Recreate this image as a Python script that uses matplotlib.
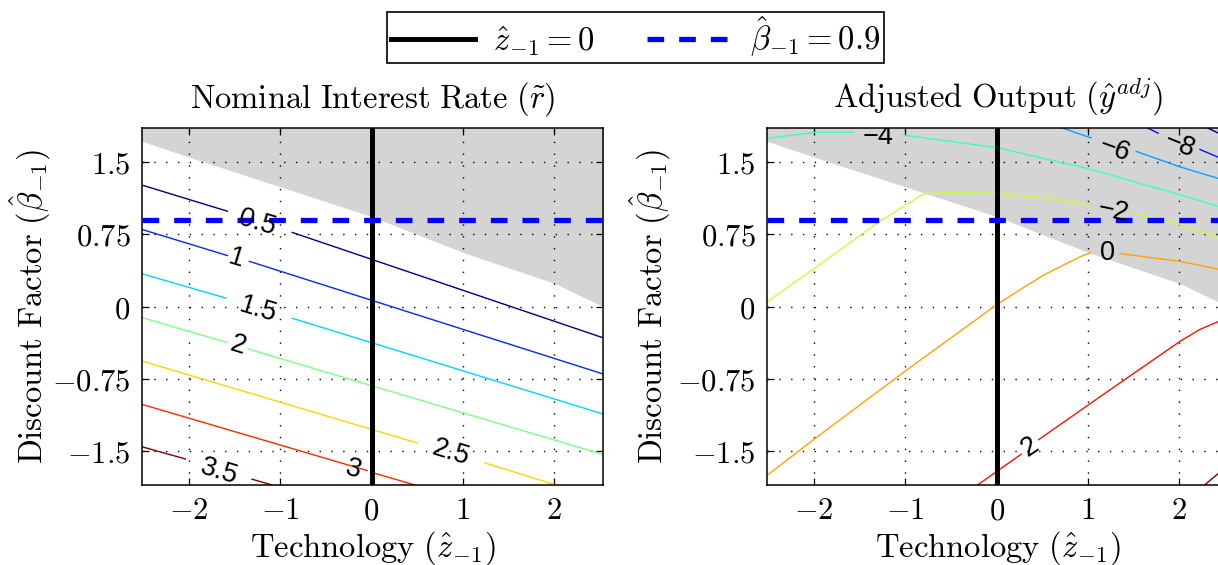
import numpy as np
import matplotlib
matplotlib.use('Agg')
import matplotlib.pyplot as plt
from matplotlib.ticker import FixedLocator, FixedFormatter

plt.rcParams['mathtext.fontset'] = 'cm'
plt.rcParams['lines.scale_dashes'] = False

nan = np.nan

# upper edge of the white area: above it the policy rate sits at the zero bound
zlb_z = [-2.53, -1.98, -0.99, 0.0, 1.01, 2.01, 2.56]
zlb_b = [1.72, 1.545, 1.24, 0.935, 0.56, 0.24, -0.01]

# nominal interest rate contours (nan = gap where the label goes)
r_levels = [0.5, 1.0, 1.5, 2.0, 2.5, 3.0, 3.5]
r05_z = [-2.53, -1.58, nan, -0.87, 2.56]
r05_b = [1.265, 0.99, nan, 0.77, -0.33]
r10_z = [-2.53, -1.58, nan, -1.34, 2.56]
r10_b = [0.805, 0.53, nan, 0.47, -0.705]
r15_z = [-2.53, -1.60, nan, -0.87, 2.56]
r15_b = [0.345, 0.09, nan, -0.12, -1.12]
r20_z = [-2.53, -1.59, nan, -1.35, 2.56]
r20_b = [-0.11, -0.37, nan, -0.44, -1.54]
r25_z = [-2.53, 0.505, nan, 1.24, 2.02]
r25_b = [-0.56, -1.415, nan, -1.62, -1.85]
r30_z = [-2.53, -0.05, nan, 0.04, 0.475]
r30_b = [-1.01, -1.70, nan, -1.73, -1.85]
r35_z = [-2.53, -2.04, nan, -1.31, -1.09]
r35_b = [-1.45, -1.58, nan, -1.79, -1.85]

r_lab_text = ['0.5', '1', '1.5', '2', '2.5', '3', '3.5']
r_lab_z = [-1.25, -1.48, -1.24, -1.47, 0.866, -0.20, -1.67]
r_lab_b = [0.87, 0.50, -0.035, -0.40, -1.52, -1.69, -1.71]
r_lab_rot = [-17, -17, -17, -17, -17, -17, -17]

# adjusted output contours
y_levels = [-10, -8, -6, -4, -2, 0, 2, 4]
m10_z = [2.30, 2.43, 2.56]
m10_b = [1.86, 1.80, 1.74]
m8_z = [1.64, 1.77, nan, 2.23, 2.43, 2.56]
m8_b = [1.86, 1.80, nan, 1.63, 1.55, 1.50]
m6_z = [0.70, 1.035, nan, 1.53, 2.01, 2.43, 2.56]
m6_b = [1.86, 1.75, nan, 1.61, 1.45, 1.33, 1.29]
m4_z = [-2.53, -1.97, -1.57, nan, -1.02, 0.0, 1.01, 2.01, 2.43, 2.56]
m4_b = [1.745, 1.81, 1.81, nan, 1.78, 1.65, 1.43, 1.16, 1.04, 1.0]
m2_z = [-2.53, -1.98, -1.29, -0.92, -0.84, -0.76, -0.48, 0.0, 0.5, 1.01, nan, 1.53, 2.01, 2.43, 2.56]
m2_b = [0.04, 0.41, 0.88, 1.10, 1.15, 1.175, 1.185, 1.175, 1.13, 1.06, nan, 0.96, 0.85, 0.715, 0.67]
y0_z = [-2.53, -1.98, -0.99, 0.0, 0.28, 0.52, 0.77, 0.92, 1.03, nan, 1.355, 2.01, 2.43, 2.56]
y0_b = [-1.76, -1.36, -0.66, 0.02, 0.19, 0.33, 0.45, 0.52, 0.56, nan, 0.55, 0.47, 0.39, 0.36]
p2_z = [-0.21, 0.0, 0.27, nan, 0.46, 1.14, 2.01, 2.23, 2.43, 2.56]
p2_b = [-1.85, -1.71, -1.53, nan, -1.38, -0.93, -0.36, -0.235, -0.155, -0.13]
p4_z = [2.28, 2.43, 2.56]
p4_b = [-1.85, -1.73, -1.63]

y_lab_text = ['\u22124', '\u22126', '\u22128', '\u22122', '0', '2']
y_lab_z = [-1.30, 1.29, 2.01, 1.28, 1.21, 0.37]
y_lab_b = [1.755, 1.63, 1.675, 0.985, 0.553, -1.46]
y_lab_rot = [0, -20, -22, -12, 0, 34]

z_ticks = [-2, -1, 0, 1, 2]
b_ticks = [-1.5, -0.75, 0, 0.75, 1.5]
b_tick_labels = ['$-1.5$', '$-0.75$', '$0$', '$0.75$', '$1.5$']
z_tick_labels = ['$-2$', '$-1$', '$0$', '$1$', '$2$']

z_bar = 0.0
beta_bar = 0.9

r_lines = list(zip([r05_z, r10_z, r15_z, r20_z, r25_z, r30_z, r35_z],
                   [r05_b, r10_b, r15_b, r20_b, r25_b, r30_b, r35_b]))
y_lines = list(zip([m10_z, m8_z, m6_z, m4_z, m2_z, y0_z, p2_z, p4_z],
                   [m10_b, m8_b, m6_b, m4_b, m2_b, y0_b, p2_b, p4_b]))

FS = 23.5
TICK_FS = 22
LAB_FS = 19.5


def jet(x):
    # MATLAB-style jet
    r = np.clip(1.5 - abs(4 * x - 3), 0, 1)
    g = np.clip(1.5 - abs(4 * x - 2), 0, 1)
    b = np.clip(1.5 - abs(4 * x - 1), 0, 1)
    return (r, g, b)


fig = plt.figure(figsize=(12.18, 5.65), dpi=100)
ax1 = fig.add_axes([0.1163, 0.1416, 0.379, 0.6313])
ax2 = fig.add_axes([0.6295, 0.1416, 0.379, 0.6313])


def panel(ax, title, lines, levels, labels, ypad):
    vmin, vmax = min(levels), max(levels)
    ax.fill_between(zlb_z, zlb_b, 2.0, color='#d4d4d4', lw=0, zorder=0.5)
    for lev, (zz, bb) in zip(levels, lines):
        ax.plot(zz, bb, color=jet((lev - vmin) / (vmax - vmin)), lw=1.0, zorder=2)
    vl = ax.axvline(z_bar, color='k', lw=3.6, zorder=3)
    hl = ax.axhline(beta_bar, color='#0000ff', lw=3.8, dashes=(12, 10.8), zorder=4)
    for txt, zz, bb, rot in zip(*labels):
        ax.text(zz, bb, txt, rotation=rot, rotation_mode='anchor', ha='center', va='center',
                fontsize=LAB_FS, family=['Liberation Sans', 'DejaVu Sans'], zorder=6, clip_on=True)
    ax.set_xlim(-2.52, 2.54)
    ax.set_ylim(-1.85, 1.85)
    ax.xaxis.set_major_locator(FixedLocator(z_ticks))
    ax.xaxis.set_major_formatter(FixedFormatter(z_tick_labels))
    ax.yaxis.set_major_locator(FixedLocator(b_ticks))
    ax.yaxis.set_major_formatter(FixedFormatter(b_tick_labels))
    ax.tick_params(direction='in', top=True, right=True, length=5, width=0.9,
                   labelsize=TICK_FS, pad=8)
    ax.grid(True, color='k', linestyle=(0, (1, 7.5)), linewidth=1.0)
    for s in ax.spines.values():
        s.set_linewidth(1.1)
    ax.set_title(title, fontsize=FS, pad=15)
    ax.set_xlabel(r'$\mathrm{Technology}\ (\hat{z}_{-1})$', fontsize=FS, labelpad=2.5)
    ax.set_ylabel(r'$\mathrm{Discount\ Factor}\ (\hat{\beta}_{-1})$', fontsize=FS, labelpad=ypad)
    return vl, hl


vl, hl = panel(ax1, r'$\mathrm{Nominal\ Interest\ Rate}\ (\tilde{r})$', r_lines, r_levels,
               (r_lab_text, r_lab_z, r_lab_b, r_lab_rot), -1)
panel(ax2, r'$\mathrm{Adjusted\ Output}\ (\hat{y}^{adj})$', y_lines, y_levels,
      (y_lab_text, y_lab_z, y_lab_b, y_lab_rot), 3)

leg = fig.legend([vl, hl], [r'$\hat{z}_{-1}=0$', r'$\hat{\beta}_{-1}=0.9$'],
                 loc='upper center', bbox_to_anchor=(0.5218, 0.979), ncol=2,
                 fontsize=FS, frameon=True, fancybox=False, edgecolor='k',
                 framealpha=1, handlelength=2.6, columnspacing=1.6, borderpad=0.1,
                 handletextpad=0.55, borderaxespad=0)
leg.get_frame().set_linewidth(1.2)

fig.savefig('out.png', dpi=100)
